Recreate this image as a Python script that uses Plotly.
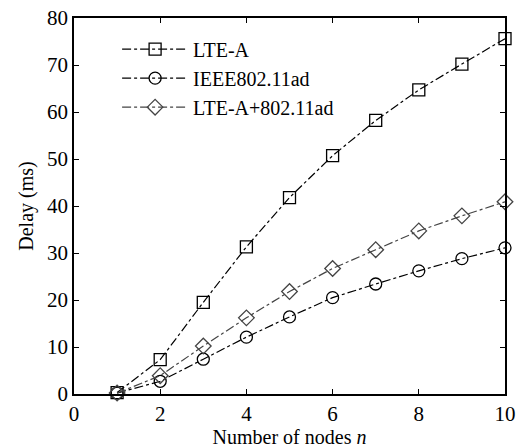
import plotly.graph_objects as go

nodes = [1, 2, 3, 4, 5, 6, 7, 8, 9, 10]
lte_a = [0.3, 7.3, 19.5, 31.3, 41.8, 50.7, 58.2, 64.7, 70.2, 75.6]
ieee = [0.2, 2.7, 7.4, 12.1, 16.4, 20.5, 23.4, 26.2, 28.8, 31.1]
lte_ieee = [0.2, 3.9, 10.2, 16.2, 21.8, 26.7, 30.7, 34.7, 37.9, 40.9]

font_family = "'Liberation Serif', 'Times New Roman', Times, serif"

fig = go.Figure()
series = [
    ("LTE-A", lte_a, "square-open", "black"),
    ("IEEE802.11ad", ieee, "circle-open", "black"),
    ("LTE-A+802.11ad", lte_ieee, "diamond-open", "#444444"),
]
for name, vals, sym, col in series:
    fig.add_trace(go.Scatter(
        x=nodes, y=vals, name=name, mode="lines+markers",
        line=dict(color=col, width=1.2, dash="dashdot"),
        marker=dict(symbol=sym, size=12, color=col, line=dict(width=1.3, color=col)),
        cliponaxis=False,
    ))

axis_common = dict(
    showgrid=False, zeroline=False, showline=True, linecolor="black", linewidth=1.5,
    mirror="ticks", ticks="inside", ticklen=5, tickwidth=1, tickcolor="black",
    tickfont=dict(family=font_family, size=21, color="black"), automargin=False,
)

fig.update_layout(
    width=523, height=448,
    margin=dict(l=74, r=18, t=18, b=54),
    paper_bgcolor="white", plot_bgcolor="white",
    font=dict(family=font_family, size=21, color="black"),
    xaxis=dict(range=[0, 10], dtick=2,
               title=dict(text="Number of nodes <i>n</i>", font=dict(family=font_family, size=20), standoff=0),
               **axis_common),
    yaxis=dict(range=[0, 80], dtick=10,
               title=dict(text="Delay (ms)", font=dict(family=font_family, size=20), standoff=8),
               **axis_common),
    legend=dict(x=0.10, y=0.969, xanchor="left", yanchor="top",
                bgcolor="rgba(0,0,0,0)", borderwidth=0,
                font=dict(family=font_family, size=20), tracegroupgap=0, itemwidth=66),
    showlegend=True,
)

fig.write_html("out.html")
